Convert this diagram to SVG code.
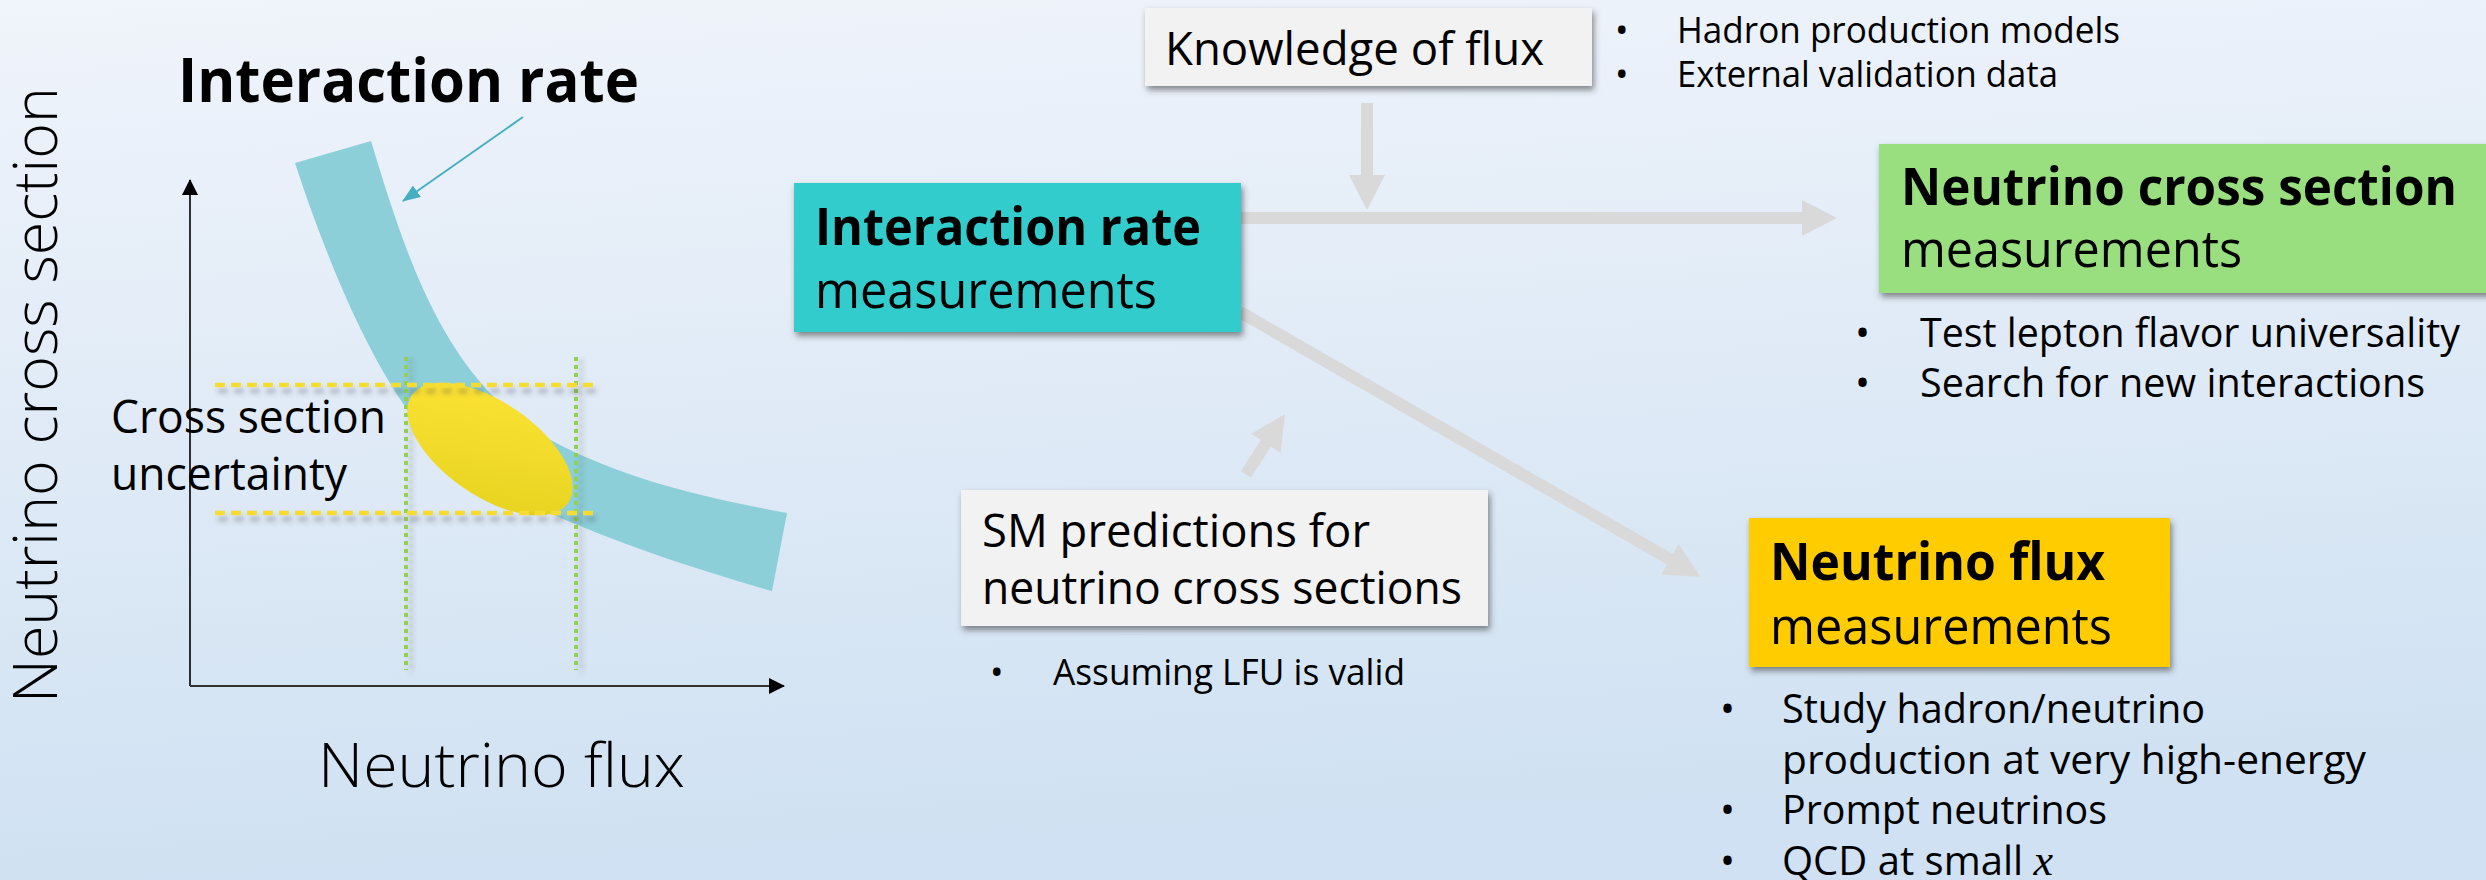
<svg xmlns="http://www.w3.org/2000/svg" width="2486" height="880" viewBox="0 0 2486 880">
<defs>
  <linearGradient id="bg" x1="0" y1="0" x2="0.15" y2="1">
    <stop offset="0" stop-color="#F0F4FB"/>
    <stop offset="1" stop-color="#CFE1F2"/>
  </linearGradient>
  <linearGradient id="ell" x1="0" y1="0" x2="1" y2="1">
    <stop offset="0" stop-color="#FFE536"/>
    <stop offset="1" stop-color="#E5D11E"/>
  </linearGradient>
  <filter id="shadow" x="-10%" y="-20%" width="125%" height="150%">
    <feDropShadow dx="2" dy="4" stdDeviation="3" flood-color="#303030" flood-opacity="0.55"/>
  </filter>
  <filter id="lshadow" x="-5%" y="-200%" width="115%" height="600%">
    <feDropShadow dx="3" dy="6" stdDeviation="2.5" flood-color="#404040" flood-opacity="0.35"/>
  </filter>
  <filter id="vshadow" x="-300%" y="-5%" width="800%" height="115%">
    <feDropShadow dx="5" dy="3" stdDeviation="2.5" flood-color="#404040" flood-opacity="0.3"/>
  </filter>
  <marker id="tealHead" viewBox="0 0 18 14" refX="17" refY="7" markerWidth="18" markerHeight="14" markerUnits="userSpaceOnUse" orient="auto">
    <path d="M0,0 L18,7 L0,14 z" fill="#45AFC2"/>
  </marker>
  <marker id="axHead" viewBox="0 0 16 16" refX="15" refY="8" markerWidth="16" markerHeight="16" markerUnits="userSpaceOnUse" orient="auto">
    <path d="M0,0 L16,8 L0,16 z" fill="#000"/>
  </marker>
</defs>
<style>
  text { font-family: 'Open Sans', 'Noto Sans', 'DejaVu Sans', sans-serif; fill: #000; }
  .b { font-weight: 700; }
  .lt { font-weight: 300; }
  .box { filter: url(#shadow); }
  .conn { fill: #D9D9D9; }
</style>

<rect x="0" y="0" width="2486" height="880" fill="url(#bg)"/>

<!-- Left plot -->
<g id="plot">
  <text class="lt" transform="translate(57,703) rotate(-90)" font-size="60" textLength="616" lengthAdjust="spacingAndGlyphs">Neutrino cross section</text>
  <text class="b" x="178" y="102" font-size="60" textLength="461" lengthAdjust="spacingAndGlyphs">Interaction rate</text>
  <path id="band" d="M295,163 L371,141 C410,270 450,390 560,445 C640,485 720,500 787,513 L772,591 C680,565 560,525 470,473 C400,430 340,300 295,163 Z" fill="#8DCFD9"/>
  <line x1="523" y1="117" x2="403" y2="201" stroke="#45AFC2" stroke-width="2" marker-end="url(#tealHead)"/>
  <line x1="190" y1="686" x2="190" y2="180" stroke="#000" stroke-width="1.6" marker-end="url(#axHead)"/>
  <line x1="190" y1="686" x2="784" y2="686" stroke="#333" stroke-width="2.2" marker-end="url(#axHead)"/>
  <g filter="url(#vshadow)">
    <line x1="406" y1="357" x2="406" y2="670" stroke="#92D050" stroke-width="4" stroke-dasharray="4 4"/>
    <line x1="576" y1="357" x2="576" y2="670" stroke="#92D050" stroke-width="4" stroke-dasharray="4 4"/>
  </g>
  <ellipse cx="490" cy="449" rx="95" ry="47" transform="rotate(34.5 490 449)" fill="url(#ell)"/>
  <g filter="url(#lshadow)">
    <line x1="215" y1="385" x2="595" y2="385" stroke="#F5DC30" stroke-width="4.5" stroke-dasharray="10 6"/>
    <line x1="215" y1="513" x2="595" y2="513" stroke="#F5DC30" stroke-width="4.5" stroke-dasharray="10 6"/>
  </g>
  <text x="111" y="433" font-size="46" textLength="275" lengthAdjust="spacingAndGlyphs">Cross section</text>
  <text x="111" y="490" font-size="46" textLength="236" lengthAdjust="spacingAndGlyphs">uncertainty</text>
  <text class="lt" x="318" y="787" font-size="60" textLength="367" lengthAdjust="spacingAndGlyphs">Neutrino flux</text>
</g>

<!-- Connectors -->
<g id="connectors">
  <path class="conn" d="M1241,212 L1802,212 L1802,200 L1837,218 L1802,236 L1802,224 L1241,224 Z"/>
  <path class="conn" d="M1361,103 L1373,103 L1373,175 L1385,175 L1367,210 L1349,175 L1361,175 Z"/>
  <path class="conn" transform="translate(1240,312) rotate(29.9)" d="M0,-6 L496,-6 L496,-17.5 L531,0 L496,17.5 L496,6 L0,6 Z"/>
  <path class="conn" transform="translate(1285,414) rotate(123)" d="M0,0 L35,-17.5 L35,-6 L72,-6 L72,6 L35,6 L35,17.5 Z"/>
</g>

<!-- Nodes -->
<g id="interaction-rate">
  <rect class="box" x="794" y="183" width="447" height="149" fill="#33CCCC"/>
  <text class="b" x="815" y="245" font-size="52" textLength="386" lengthAdjust="spacingAndGlyphs">Interaction rate</text>
  <text x="815" y="308" font-size="52" textLength="342" lengthAdjust="spacingAndGlyphs">measurements</text>
</g>

<g id="knowledge-of-flux">
  <rect class="box" x="1145" y="8" width="447" height="78" fill="#F2F2F2"/>
  <text x="1165" y="65" font-size="45" textLength="379" lengthAdjust="spacingAndGlyphs">Knowledge of flux</text>
  <text x="1615" y="43" font-size="36">•</text>
  <text x="1677" y="43" font-size="36" textLength="443" lengthAdjust="spacingAndGlyphs">Hadron production models</text>
  <text x="1615" y="87" font-size="36">•</text>
  <text x="1677" y="87" font-size="36" textLength="381" lengthAdjust="spacingAndGlyphs">External validation data</text>
</g>

<g id="cross-section-measurements">
  <rect class="box" x="1879" y="144" width="620" height="149" fill="#99DF80"/>
  <text class="b" x="1901" y="205" font-size="52" textLength="556" lengthAdjust="spacingAndGlyphs">Neutrino cross section</text>
  <text x="1901" y="267" font-size="52" textLength="341" lengthAdjust="spacingAndGlyphs">measurements</text>
  <text x="1855" y="347" font-size="40">•</text>
  <text x="1920" y="347" font-size="40" textLength="540" lengthAdjust="spacingAndGlyphs">Test lepton flavor universality</text>
  <text x="1855" y="397" font-size="40">•</text>
  <text x="1920" y="397" font-size="40" textLength="505" lengthAdjust="spacingAndGlyphs">Search for new interactions</text>
</g>

<g id="sm-predictions">
  <rect class="box" x="961" y="490" width="527" height="136" fill="#F2F2F2"/>
  <text x="982" y="547" font-size="46" textLength="388" lengthAdjust="spacingAndGlyphs">SM predictions for</text>
  <text x="982" y="604" font-size="46" textLength="480" lengthAdjust="spacingAndGlyphs">neutrino cross sections</text>
  <text x="990" y="685" font-size="36">•</text>
  <text x="1053" y="685" font-size="36" textLength="352" lengthAdjust="spacingAndGlyphs">Assuming LFU is valid</text>
</g>

<g id="flux-measurements">
  <rect class="box" x="1749" y="518" width="421" height="149" fill="#FFCC00"/>
  <text class="b" x="1770" y="580" font-size="52" textLength="335" lengthAdjust="spacingAndGlyphs">Neutrino flux</text>
  <text x="1770" y="644" font-size="52" textLength="342" lengthAdjust="spacingAndGlyphs">measurements</text>
  <text x="1720" y="723" font-size="40">•</text>
  <text x="1782" y="723" font-size="40" textLength="423" lengthAdjust="spacingAndGlyphs">Study hadron/neutrino</text>
  <text x="1782" y="774" font-size="40" textLength="584" lengthAdjust="spacingAndGlyphs">production at very high-energy</text>
  <text x="1720" y="824" font-size="40">•</text>
  <text x="1782" y="824" font-size="40" textLength="325" lengthAdjust="spacingAndGlyphs">Prompt neutrinos</text>
  <text x="1720" y="875" font-size="40">•</text>
  <text x="1782" y="875" font-size="40">QCD at small <tspan font-family="'Liberation Serif', serif" font-style="italic" font-size="44">x</tspan></text>
</g>
</svg>
